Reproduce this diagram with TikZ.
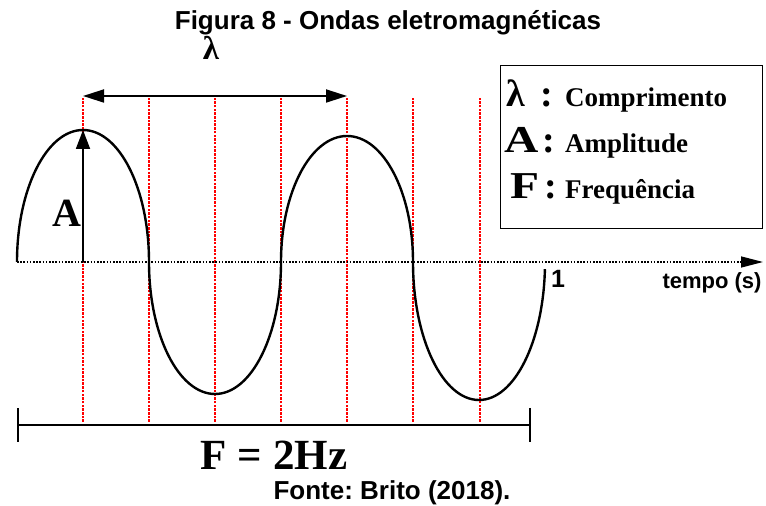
\documentclass[tikz,border=0pt]{standalone}
\usepackage{fontspec}
\setmainfont{Liberation Serif}
\setsansfont{Liberation Sans}
\usetikzlibrary{arrows.meta}

\begin{document}
\frenchspacing
\begin{tikzpicture}[x=1pt,y=1pt,>=Triangle]
\tikzset{
  wave/.style={line width=2.4pt},
  axisline/.style={line width=1.4pt, dash pattern=on 1.6pt off 1.6pt},
  guide/.style={draw=red, line width=1.1pt, dash pattern=on 2.5pt off 1.2pt},
  dimline/.style={line width=1.8pt},
  serifbig/.style={font=\fontsize{40}{40}\selectfont\bfseries},
  sanslabel/.style={font=\fontsize{22}{22}\selectfont\sffamily\bfseries},
  caption/.style={font=\fontsize{26}{26}\selectfont\sffamily\bfseries},
  legendtext/.style={anchor=base west, inner sep=0pt, font=\fontsize{27}{27}\selectfont\bfseries}
}
\newcommand{\legsym}[1]{{\fontsize{38}{38}\selectfont #1}}
\useasboundingbox (0,0) rectangle (766,506);

% Guides (red, one per quarter period)
\foreach \x in {83,149,215,281,347,413,480}
  \draw[guide] (\x,84) -- (\x,408);

% Coordinates
\coordinate (origin) at (17,244);
\coordinate (axisend) at (763,244);
\coordinate (ampbase) at (83,244);
\coordinate (peak) at (83,376);
\coordinate (lamL) at (83,410);
\coordinate (lamR) at (347,410);
\coordinate (barL) at (17,81);
\coordinate (barR) at (531,81);

% Time axis
\draw[axisline,-{Triangle[length=22pt,width=11pt]}] (origin) -- (axisend);

% Wave
\draw[wave] (origin)
  arc[start angle=180,end angle=0,x radius=66,y radius=132]
  arc[start angle=180,end angle=360,x radius=66,y radius=132]
  arc[start angle=180,end angle=0,x radius=66,y radius=126]
  arc[start angle=180,end angle=357,x radius=66,y radius=138];

% Arrows
\draw[dimline,{Triangle[length=21pt,width=13pt]}-{Triangle[length=21pt,width=13pt]}] (lamL) -- (lamR);
\draw[dimline,-{Triangle[length=19pt,width=14pt]}] (ampbase) -- (peak);
\draw[line width=1.6pt,{Bar[width=34pt]}-{Bar[width=34pt]}] (barL) -- (barR);

% Labels
\node[font=\fontsize{33}{33}\selectfont\bfseries] (lamlabel) at (211,458) {λ};
\node[serifbig] (amplabel) at (67,293) {A};
\node[font=\fontsize{43}{43}\selectfont\bfseries, anchor=base] (freqlabel) at (274,36) {F = 2Hz};
\node[sanslabel, font=\fontsize{25}{25}\selectfont\sffamily\bfseries] (one) at (558,227) {1};
\node[sanslabel] (tempo) at (712,223) {tempo (s)};
\node[caption] (title) at (388,483) {Figura 8 - Ondas eletromagnéticas};
\node[caption, anchor=base] (source) at (392,6) {Fonte: Brito (2018).};

% Legend
\node[draw, line width=1.4pt, minimum width=262pt, minimum height=163pt, anchor=north west] (legend) at (500,441) {};
\node[legendtext] (leglam) at (506,399) {\makebox[59pt][l]{\legsym{\makebox[34pt][l]{λ}:}}Comprimento};
\node[legendtext] (legamp) at (504,353) {\makebox[61pt][l]{\legsym{\makebox[38pt][l]{\scalebox{1.25}[1]{A}}:}}Amplitude};
\node[legendtext] (legfreq) at (504,307) {\makebox[61pt][l]{\legsym{\hspace{6pt}\makebox[34pt][l]{\scalebox{1.25}[1]{F}}:}}Frequência};
\end{tikzpicture}
\end{document}
